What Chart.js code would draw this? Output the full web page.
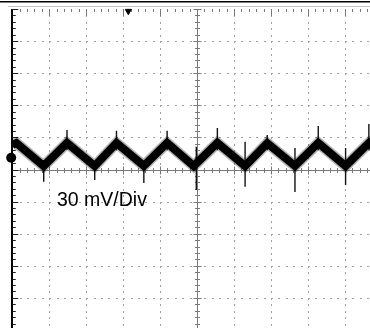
<!DOCTYPE html>
<html>
<head>
<meta charset="utf-8">
<script src="https://cdn.jsdelivr.net/npm/chart.js@4/dist/chart.umd.min.js"></script>
<style>
  html, body { margin: 0; padding: 0; background: #fff; overflow: hidden; }
  #wrap { width: 370px; height: 328px; overflow: hidden; }
</style>
</head>
<body>
<div id="wrap"><canvas id="scope" width="400" height="340"></canvas></div>
<script>
// x in screen divisions (10 across), y in mV (30 mV per division)
const vertexDiv = [0.00, 0.11, 0.85, 1.48, 2.23, 2.82, 3.56, 4.19, 4.91, 5.55, 6.30, 6.90, 7.65, 8.28, 9.02, 9.65, 10.00];
const vertexMv  = [22.9, 24.8, 3.3, 24.8, 3.3, 24.8, 3.5, 24.8, 3.3, 24.8, 3.3, 24.6, 3.3, 24.8, 3.3, 24.8, 14.5];

// switching spikes at the corners of the ripple
const spikeDiv  = [0.85, 1.48, 2.23, 2.82, 3.56, 4.19, 4.98, 5.55, 6.30, 6.90, 7.65, 8.28, 9.02, 9.65];
const spikeHigh = [8.9, 36.9, 8.0, 36.3, 8.5, 36.3, 21.3, 38.8, 26.0, 32.2, 20.0, 40.7, 20.0, 42.5];
const spikeLow  = [-11.4, 18.2, -9.8, 18.0, -12.6, 18.0, -19.2, 18.0, -16.1, 18.0, -21.0, 18.0, -14.5, 18.0];

// channel marker on the left edge, trigger marker on the top edge
const markerDiv = [-0.03];
const markerMv = [11.0];
const triggerDiv = [3.14];
const triggerMv = [148];

const mvPerDiv = 30;
const scaleText = '30 mV/Div';

const wave = vertexDiv.map((d, i) => ({ x: d, y: vertexMv[i] }));
const spikes = [];
spikeDiv.forEach((d, i) => {
  spikes.push({ x: d, y: spikeHigh[i] }, { x: d, y: spikeLow[i] }, { x: d, y: null });
});

const graticule = {
  id: 'graticule',
  beforeDatasetsDraw(chart) {
    const { ctx, chartArea: a, scales: { x, y } } = chart;
    ctx.save();
    // screen frame
    ctx.fillStyle = '#000';
    ctx.fillRect(0, 1, chart.width, 1.5);
    ctx.fillStyle = '#c4c4c4';
    ctx.fillRect(8, 6, chart.width, 1);

    // dotted division lines
    ctx.fillStyle = '#a0a0a0';
    for (let i = 1; i < 10; i++) {
      if (i === 5) continue;
      const px = Math.round(x.getPixelForValue(i));
      for (let j = 0; j <= 50; j++) {
        const py = Math.round(y.getPixelForValue(5 * mvPerDiv - j * mvPerDiv / 5));
        ctx.fillRect(px, py, 1, 2);
      }
    }
    for (let k = -4; k <= 4; k++) {
      if (k === 0) continue;
      const py = Math.round(y.getPixelForValue(k * mvPerDiv));
      for (let j = 0; j <= 50; j++) {
        const px = Math.round(x.getPixelForValue(j / 5));
        ctx.fillRect(px, py, 2, 1);
      }
    }

    // centre cross with minor ticks
    const cx = Math.round(x.getPixelForValue(5)) + 0.5;
    const cy = Math.round(y.getPixelForValue(0)) + 0.5;
    ctx.strokeStyle = '#7a7a7a';
    ctx.lineWidth = 1;
    ctx.beginPath();
    ctx.moveTo(a.left, cy); ctx.lineTo(a.right, cy);
    ctx.moveTo(cx, a.top); ctx.lineTo(cx, a.bottom);
    for (let j = 0; j <= 50; j++) {
      const px = Math.round(x.getPixelForValue(j / 5)) + 0.5;
      const len = j % 5 === 0 ? 4 : 2.5;
      ctx.moveTo(px, cy - len); ctx.lineTo(px, cy + len);
      const py = Math.round(y.getPixelForValue(5 * mvPerDiv - j * mvPerDiv / 5)) + 0.5;
      ctx.moveTo(cx - len, py); ctx.lineTo(cx + len, py);
    }
    ctx.stroke();

    // top edge ticks
    ctx.strokeStyle = '#777';
    ctx.beginPath();
    for (let j = 1; j <= 50; j++) {
      const px = Math.round(x.getPixelForValue(j / 5)) + 0.5;
      const len = j % 5 === 0 ? 7 : 3;
      ctx.moveTo(px, a.top); ctx.lineTo(px, a.top + len);
    }
    ctx.stroke();

    // left edge with ticks
    ctx.fillStyle = '#000';
    ctx.fillRect(Math.round(a.left) - 1, a.top, 2, a.bottom - a.top);
    ctx.strokeStyle = '#222';
    ctx.beginPath();
    for (let j = 0; j <= 50; j++) {
      const py = Math.round(y.getPixelForValue(5 * mvPerDiv - j * mvPerDiv / 5)) + 0.5;
      const len = j % 5 === 0 ? 6 : 3.5;
      ctx.moveTo(a.left, py); ctx.lineTo(a.left + len, py);
    }
    ctx.stroke();
    ctx.restore();
  },
  afterDraw(chart) {
    const { ctx } = chart;
    ctx.save();
    ctx.fillStyle = '#000';
    ctx.font = '19.5px "Liberation Sans", Arial, sans-serif';
    ctx.textBaseline = 'alphabetic';
    ctx.fillText(scaleText, 57, 206);
    ctx.restore();
  }
};

new Chart(document.getElementById('scope').getContext('2d'), {
  type: 'line',
  data: {
    datasets: [
      {
        label: 'marker',
        data: markerDiv.map((d, i) => ({ x: d, y: markerMv[i] })),
        showLine: false,
        pointStyle: 'circle',
        pointRadius: 5,
        pointBorderWidth: 0,
        pointBackgroundColor: '#000',
        pointBorderColor: '#000',
        clip: false,
        order: 0
      },
      {
        label: 'trigger',
        data: triggerDiv.map((d, i) => ({ x: d, y: triggerMv[i] })),
        showLine: false,
        pointStyle: 'triangle',
        rotation: 180,
        pointRadius: 3.5,
        pointBackgroundColor: '#000',
        pointBorderColor: '#000',
        clip: false,
        order: 0
      },
      {
        label: 'ripple',
        data: wave,
        borderColor: '#000',
        borderWidth: 8,
        borderJoinStyle: 'miter',
        pointRadius: 0,
        tension: 0,
        order: 1
      },
      {
        label: 'spikes',
        data: spikes,
        borderColor: '#111',
        borderWidth: 1.4,
        pointRadius: 0,
        spanGaps: false,
        order: 2
      },
      {
        label: 'fuzz',
        data: wave,
        borderColor: 'rgba(0,0,0,0.3)',
        borderWidth: 11,
        borderJoinStyle: 'miter',
        pointRadius: 0,
        tension: 0,
        order: 3
      }
    ]
  },
  options: {
    responsive: false,
    devicePixelRatio: 1,
    animation: false,
    layout: { padding: { left: 12.3, top: 9, right: 18.2, bottom: 10 } },
    plugins: { legend: { display: false }, tooltip: { enabled: false } },
    scales: {
      x: { type: 'linear', min: 0, max: 10, display: false },
      y: { type: 'linear', min: -150, max: 150, display: false }
    }
  },
  plugins: [graticule]
});
</script>
</body>
</html>
